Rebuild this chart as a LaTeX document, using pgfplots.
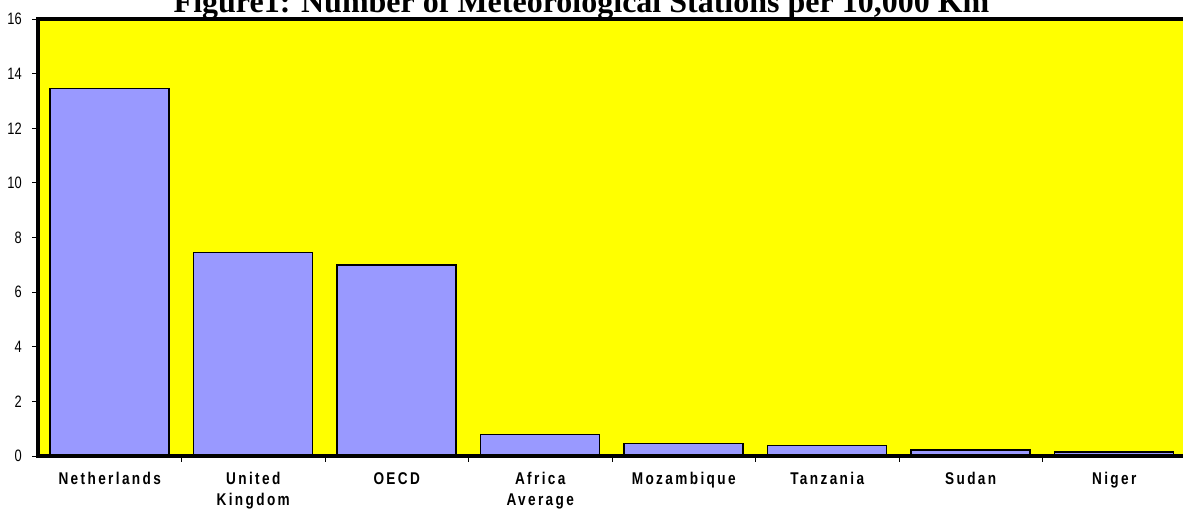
\documentclass[border=0pt]{standalone}
\usepackage{fontspec}
\usepackage{pgfplots}
\pgfplotsset{compat=1.18}
\setmainfont{Liberation Serif}
\newfontfamily\tickfont[FakeStretch=0.78]{Liberation Sans}
\newfontfamily\catfont[FakeStretch=0.8,LetterSpace=14]{Liberation Sans}
\definecolor{barblue}{HTML}{9999FF}
\definecolor{bgyellow}{HTML}{FFFF00}
\begin{document}
\begin{tikzpicture}
\path[use as bounding box] (0,0) rectangle (1183pt,510pt);
\begin{scope}[overlay]
\clip (0,0) rectangle (1183pt,510pt);
\begin{axis}[
  at={(38pt,54pt)}, anchor=south west,
  scale only axis, width=1148pt, height=437pt,
  xmin=-0.5, xmax=7.5, ymin=0, ymax=16,
  axis background/.style={fill=bgyellow},
  axis line style={line width=4.5pt, line cap=rect},
  axis on top=true,
  ytick={0,2,...,16},
  xtick={0,...,7},
  xticklabels={Netherlands,{United\\Kingdom},OECD,{Africa\\Average},Mozambique,Tanzania,Sudan,Niger},
  minor xtick={0.5,1.5,...,6.5},
  tick align=outside,
  ytick pos=left, xtick pos=bottom,
  major x tick style={draw=none},
  minor tick length=6pt,
  major tick length=6pt,
  tick style={black, line width=0.8pt},
  /pgf/number format/assume math mode=true,
  yticklabel style={font=\tickfont\fontsize{16.5}{16.5}\selectfont, anchor=east, inner sep=0pt, xshift=-10pt},
  xticklabel style={font=\catfont\bfseries\fontsize{17}{21}\selectfont, align=center, anchor=north, inner sep=0pt, yshift=-10pt},
]
\addplot[ybar, bar width=119pt, fill=barblue, draw=black, line width=1.5pt]
  coordinates {(0,13.45) (1,7.45) (2,7.0) (3,0.78) (4,0.45) (5,0.38) (6,0.22) (7,0.15)};
\end{axis}
\node[anchor=base, font=\bfseries\fontsize{32}{32}\selectfont] at (581.5pt,497.5pt) {Figure1: Number of Meteorological Stations per 10,000 Km};
\end{scope}
\end{tikzpicture}
\end{document}
